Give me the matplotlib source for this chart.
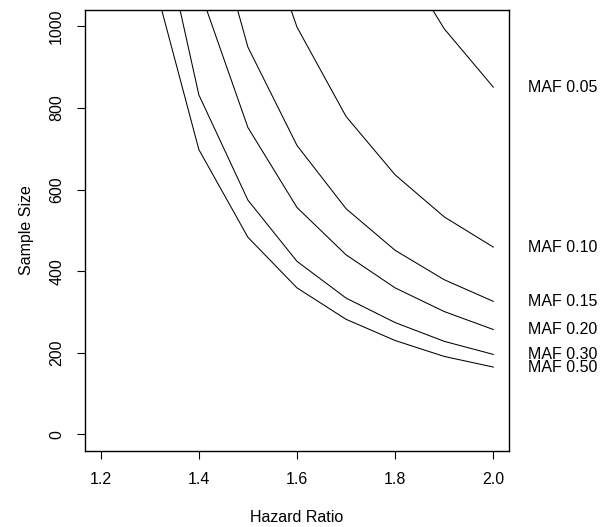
import matplotlib
matplotlib.use("Agg")
import matplotlib.pyplot as plt

plt.rcParams['font.family'] = ['Liberation Sans', 'DejaVu Sans']

# Hazard ratio grid and sample size per minor allele frequency
hazard_ratio = [1.2, 1.3, 1.4, 1.5, 1.6, 1.7, 1.8, 1.9, 2.0]
maf_labels = ["MAF 0.05", "MAF 0.10", "MAF 0.15", "MAF 0.20", "MAF 0.30", "MAF 0.50"]
n_maf05 = [12300, 5950, 3620, 2490, 1855, 1455, 1190, 994, 851]
n_maf10 = [6650, 3210, 1955, 1345, 998, 779, 636, 533, 459]
n_maf15 = [4700, 2270, 1380, 949, 708, 553, 451, 379, 326]
n_maf20 = [3720, 1797, 1095, 752, 556, 440, 359, 301, 257]
n_maf30 = [2830, 1375, 832, 574, 424, 334, 274, 228, 196]
n_maf50 = [2377, 1150, 698, 483, 359, 282, 230, 191, 165]
series = [n_maf05, n_maf10, n_maf15, n_maf20, n_maf30, n_maf50]

fig = plt.figure(figsize=(6.03, 5.27), dpi=100)
ax = fig.add_axes([85 / 603, 1 - 450.7 / 527, (509 - 85) / 603, (450.7 - 10) / 527])

for vals, lab in zip(series, maf_labels):
    ax.plot(hazard_ratio, vals, color="black", lw=0.75)
    ax.text(2.07, vals[-1], lab, ha="left", va="center", fontsize=11.5, clip_on=False)

ax.set_xlim(1.168, 2.032)
ax.set_ylim(-40, 1040)
ax.set_xticks([1.2, 1.4, 1.6, 1.8, 2.0])
ax.set_xticklabels(["1.2", "1.4", "1.6", "1.8", "2.0"])
ax.set_yticks([0, 200, 400, 600, 800, 1000])
ax.set_yticklabels(["0", "200", "400", "600", "800", "1000"], rotation=90, va="center")
ax.tick_params(direction="out", length=6, width=0.8, labelsize=11.5, pad=9)
for s in ax.spines.values():
    s.set_linewidth(1.0)

fig.text(297 / 603, 1 - 517 / 527, "Hazard Ratio", ha="center", va="center", fontsize=11.5)
fig.text(26 / 603, 1 - 230 / 527, "Sample Size", ha="center", va="center", rotation=90, fontsize=11.5)

fig.savefig("out.png", dpi=100)
